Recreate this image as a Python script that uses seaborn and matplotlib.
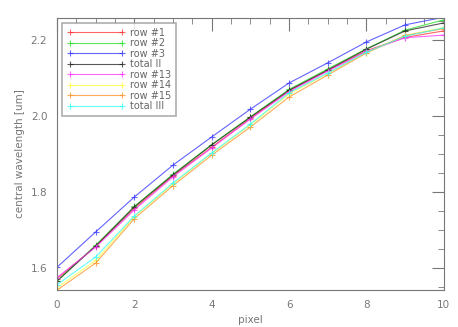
import matplotlib
matplotlib.use("Agg")
import matplotlib.pyplot as plt
import seaborn as sns
import pandas as pd
from matplotlib.ticker import MultipleLocator

pixel = [0, 1, 2, 3, 4, 5, 6, 7, 8, 9, 10]
row1 = [1.572, 1.657, 1.757, 1.843, 1.918, 1.994, 2.066, 2.120, 2.172, 2.207, 2.224]
row2 = [1.565, 1.660, 1.762, 1.847, 1.925, 1.998, 2.070, 2.124, 2.177, 2.226, 2.253]
row3 = [1.602, 1.695, 1.787, 1.871, 1.945, 2.018, 2.087, 2.140, 2.195, 2.240, 2.260]
total2 = [1.566, 1.658, 1.761, 1.845, 1.924, 1.997, 2.068, 2.121, 2.176, 2.224, 2.245]
row13 = [1.575, 1.655, 1.753, 1.840, 1.916, 1.992, 2.064, 2.118, 2.170, 2.206, 2.213]
row14 = [1.548, 1.620, 1.735, 1.822, 1.902, 1.977, 2.058, 2.112, 2.167, 2.212, 2.233]
row15 = [1.542, 1.613, 1.730, 1.817, 1.897, 1.971, 2.050, 2.108, 2.166, 2.212, 2.230]
total3 = [1.556, 1.629, 1.737, 1.824, 1.903, 1.979, 2.061, 2.113, 2.168, 2.210, 2.232]

names = ["row #1", "row #2", "row #3", "total II",
         "row #13", "row #14", "row #15", "total III"]
series = [row1, row2, row3, total2, row13, row14, row15, total3]
colors = ["#ff3030", "#20e020", "#3030ff", "#202020",
          "#ff30ff", "#ffff40", "#ff9020", "#30ffff"]

df = pd.DataFrame({
    "pixel": pixel * len(names),
    "wl": [v for s in series for v in s],
    "name": [n for n in names for _ in pixel],
})

sns.set_style("white")
plt.rcParams["font.family"] = ["DejaVu Sans"]

fig = plt.figure(figsize=(4.58, 3.27), dpi=100)
ax = fig.add_axes([0.1245, 0.113, 0.8445, 0.832])

sns.lineplot(data=df, x="pixel", y="wl", hue="name", hue_order=names,
             palette=colors, marker="+", markersize=5, markeredgewidth=0.8,
             linewidth=0.8, alpha=0.75, ax=ax, legend=False)
# '+' markers should take the line colour, not seaborn's white edge
for ln in ax.get_lines():
    ln.set_markeredgecolor(ln.get_color())

ax.set_xlim(0, 10)
ax.set_ylim(1.542, 2.258)
ax.xaxis.set_major_locator(MultipleLocator(2))
ax.xaxis.set_minor_locator(MultipleLocator(0.5))
ax.yaxis.set_minor_locator(MultipleLocator(0.05))
ax.set_yticks([1.6, 1.8, 2.0, 2.2])
ax.set_yticklabels(["1.6", "1.8", "2.0", "2.2"])
ax.tick_params(which="both", direction="in", top=True, right=True,
               colors="#777777", labelsize=7.5, labelcolor="#777777")
ax.tick_params(which="major", length=9, pad=7)
ax.tick_params(which="minor", length=4.5)
for sp in ax.spines.values():
    sp.set_color("#777777")
    sp.set_linewidth(0.8)

ax.set_xlabel("pixel", fontsize=7.5, color="#777777")
ax.set_ylabel("central wavelength [um]", fontsize=7.5, color="#777777")

leg = ax.legend(ax.get_lines(), names, loc="upper left", fontsize=7,
                frameon=True, fancybox=False, edgecolor="#999999",
                numpoints=2, handlelength=6, handletextpad=0.5,
                labelspacing=0.05, borderpad=0.5, borderaxespad=0.5,
                labelcolor="#666666")
leg.get_frame().set_linewidth(1.2)

fig.savefig("out.png", dpi=100)
